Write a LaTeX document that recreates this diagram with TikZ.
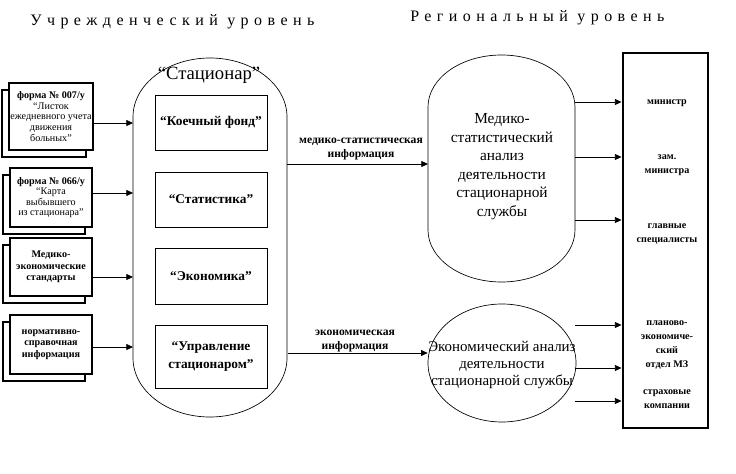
\documentclass[tikz,border=0pt]{standalone}
\usepackage{fontspec}
\setmainfont{Liberation Serif}
\newfontfamily\spacedfont[LetterSpace=34]{Liberation Serif}
\usetikzlibrary{arrows.meta,shadows,shapes.geometric}

\tikzset{
  formbox/.style={draw, line width=1.9pt, fill=white, minimum width=61.5pt, inner sep=1pt,
    align=center, font=\fontsize{7.6}{7.9}\selectfont,
    general shadow={draw, line width=1.9pt, fill=white, shadow xshift=-5.25pt, shadow yshift=-5.25pt}},
  unitbox/.style={draw, line width=0.6pt, minimum width=84pt, align=center,
    font=\fontsize{10}{13.5}\selectfont\bfseries},
  regtext/.style={align=center, inner sep=0, font=\fontsize{7.6}{10.5}\selectfont\bfseries},
  infolabel/.style={align=center, inner sep=0, font=\fontsize{8.7}{10.5}\selectfont\bfseries},
  arr/.style={-{Triangle[length=5pt,width=4.5pt]}, line width=0.6pt},
  outline/.style={line width=0.5pt}
}

\begin{document}
\begin{tikzpicture}[x=0.75pt,y=-0.75pt]
  \useasboundingbox (0,0) rectangle (736,474);

  % Заголовки уровней
  \node[anchor=west, inner sep=0, font=\spacedfont\fontsize{12}{14}\selectfont] (lvl1) at (30,22) {Учрежденческий уровень};
  \node[anchor=west, inner sep=0, font=\spacedfont\fontsize{12}{14}\selectfont] (lvl2) at (410,18) {Региональный уровень};

  % Формы слева
  \node[formbox, minimum height=50.25pt] (f007) at (51,116.5)
    {\textbf{форма № 007/у}\\“Листок\\ежедневного учета\\движения\\больных”};
  \node[formbox, minimum height=44.25pt] (f066) at (51,197.5)
    {\textbf{форма № 066/у}\\“Карта\\выбывшего\\из стационара”};
  \node[formbox, minimum height=43.5pt, font=\fontsize{7.6}{8.5}\selectfont\bfseries] (mes) at (51,267)
    {Медико-\\экономические\\стандарты};
  \node[formbox, minimum height=44.25pt, font=\fontsize{7.6}{8.5}\selectfont\bfseries] (nsi) at (51,344.5)
    {нормативно-\\справочная\\информация};

  % Стационар
  \draw[outline] (133,117) -- (133,358) arc[start angle=180, end angle=0, x radius=77, y radius=59]
    -- (287,117) arc[start angle=0, end angle=-180, x radius=77, y radius=59] -- cycle;
  \coordinate (stacW) at (133,237);
  \node[inner sep=0, font=\fontsize{14}{16}\selectfont] (stac) at (209,75) {“Стационар”};

  \node[unitbox, minimum height=41.25pt] (bed) at (211,122.5) {“Коечный фонд”};
  \node[unitbox, minimum height=41.25pt] (stat) at (211,199.5) {“Статистика”};
  \node[unitbox, minimum height=42pt] (econ) at (211,276) {“Экономика”};
  \node[unitbox, minimum height=47.25pt] (mgmt) at (211,356.5) {“Управление\\стационаром”};

  \draw[arr] ([yshift=-4.9pt]f007.east) -- ([yshift=-4.9pt]f007.east -| stacW);
  \draw[arr] ([yshift=3.4pt]f066.east) -- ([yshift=3.4pt]f066.east -| stacW);
  \draw[arr] ([yshift=-7.5pt]mes.east) -- ([yshift=-7.5pt]mes.east -| stacW);
  \draw[arr] ([yshift=-1.9pt]nsi.east) -- ([yshift=-1.9pt]nsi.east -| stacW);

  % Медико-статистический анализ
  \draw[outline] (428,107) -- (428,230) arc[start angle=180, end angle=0, x radius=73.5, y radius=52]
    -- (575,107) arc[start angle=0, end angle=-180, x radius=73.5, y radius=52] -- cycle;
  \coordinate (msaW) at (428,166);
  \node[align=center, inner sep=0, font=\fontsize{11.5}{13.9}\selectfont] (msa) at (502,166.5)
    {Медико-\\статистический\\анализ\\деятельности\\стационарной\\службы};

  % Экономический анализ
  \node[ellipse, draw, outline, minimum width=111pt, minimum height=88.5pt, inner sep=0] (eco) at (502,363) {};
  \node[align=center, inner sep=0, font=\fontsize{11.2}{12.75}\selectfont] (ecotext) at (502,365)
    {Экономический анализ\\деятельности\\стационарной службы};

  \coordinate (m1) at (287,164);
  \draw[arr] (m1) -- (m1 -| msaW);
  \node[infolabel] (l1) at (361,149) {медико-статистическая\\информация};
  \coordinate (m2) at (288,353);
  \draw[arr] (m2) -- (m2 -| eco.west);
  \node[infolabel] (l2) at (355,341) {экономическая\\информация};

  % Региональный уровень
  \node[draw, line width=2.2pt, minimum width=63.75pt, minimum height=281.25pt, inner sep=0] (reg) at (665.5,240.5) {};
  \node[regtext] (min) at (667,103) {министр};
  \node[regtext] (zam) at (667,165) {зам.\\министра};
  \node[regtext] (spec) at (667,234) {главные\\специалисты};
  \node[regtext] (plan) at (667,344.5) {планово-\\экономиче-\\ский\\отдел МЗ};
  \node[regtext] (ins) at (667,399) {страховые\\компании};

  \coordinate (r1) at (575,102);
  \coordinate (r2) at (575,157);
  \coordinate (r3) at (575,220);
  \coordinate (r4) at (575,325);
  \coordinate (r5) at (575,368);
  \coordinate (r6) at (575,401);
  \draw[arr] (r1) -- (r1 -| reg.west);
  \draw[arr] (r2) -- (r2 -| reg.west);
  \draw[arr] (r3) -- (r3 -| reg.west);
  \draw[arr] (r4) -- (r4 -| reg.west);
  \draw[arr] (r5) -- (r5 -| reg.west);
  \draw[arr] (r6) -- (r6 -| reg.west);
\end{tikzpicture}
\end{document}
